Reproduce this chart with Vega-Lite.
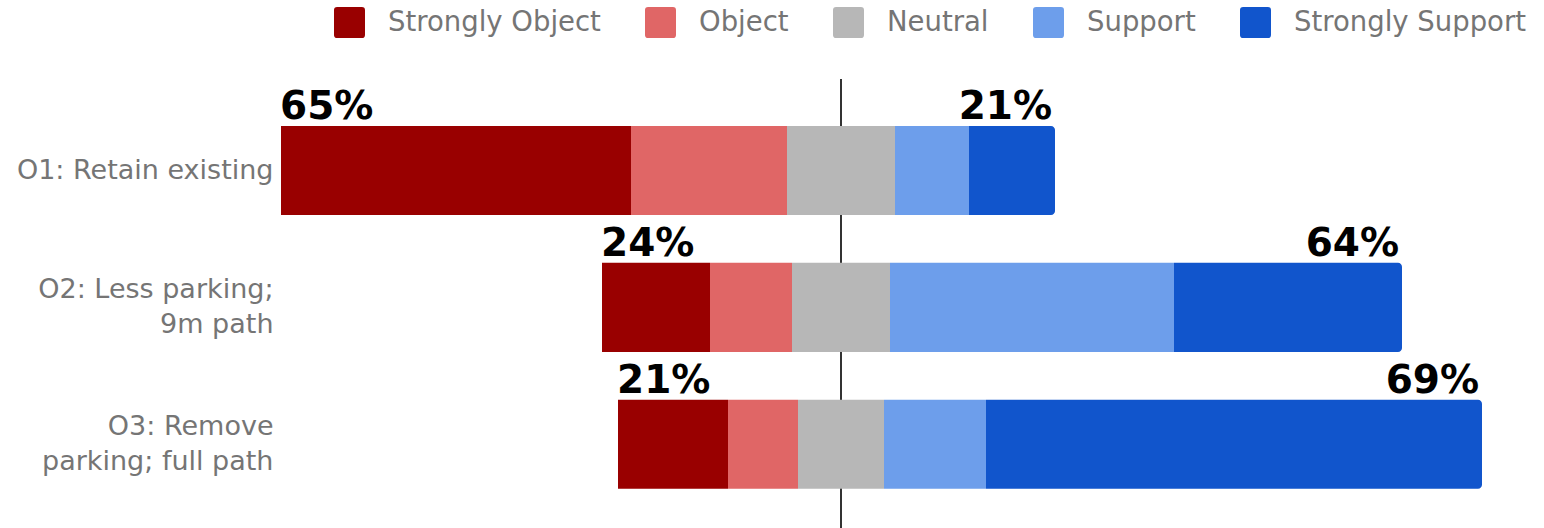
{
  "$schema": "https://vega.github.io/schema/vega-lite/v6.json",
  "width": 1220,
  "height": 449,
  "autosize": {"type": "none"},
  "padding": {"left": 281, "top": 79, "right": 43, "bottom": 0},
  "background": "white",
  "config": {
    "view": {"stroke": null},
    "font": "DejaVu Sans"
  },
  "data": {
    "values": [
      {"question": "O1: Retain existing", "response": "Strongly Object", "count": 175},
      {"question": "O1: Retain existing", "response": "Object", "count": 78},
      {"question": "O1: Retain existing", "response": "Neutral", "count": 54},
      {"question": "O1: Retain existing", "response": "Support", "count": 37},
      {"question": "O1: Retain existing", "response": "Strongly Support", "count": 43},
      {"question": "O2: Less parking;\n9m path", "response": "Strongly Object", "count": 54},
      {"question": "O2: Less parking;\n9m path", "response": "Object", "count": 41},
      {"question": "O2: Less parking;\n9m path", "response": "Neutral", "count": 49},
      {"question": "O2: Less parking;\n9m path", "response": "Support", "count": 142},
      {"question": "O2: Less parking;\n9m path", "response": "Strongly Support", "count": 114},
      {"question": "O3: Remove\nparking; full path", "response": "Strongly Object", "count": 55},
      {"question": "O3: Remove\nparking; full path", "response": "Object", "count": 35},
      {"question": "O3: Remove\nparking; full path", "response": "Neutral", "count": 43},
      {"question": "O3: Remove\nparking; full path", "response": "Support", "count": 51},
      {"question": "O3: Remove\nparking; full path", "response": "Strongly Support", "count": 248}
    ]
  },
  "transform": [
    {"calculate": "indexof(['Strongly Object','Object','Neutral','Support','Strongly Support'], datum.response) + 1", "as": "order"},
    {"window": [{"op": "sum", "field": "count", "as": "cum"}], "groupby": ["question"], "sort": [{"field": "order"}], "frame": [null, 0]},
    {"calculate": "datum.cum - datum.count", "as": "start"},
    {"calculate": "datum.order <= 2 ? datum.count : (datum.order == 3 ? datum.count / 2 : 0)", "as": "negPart"},
    {"calculate": "datum.order <= 2 ? datum.count : 0", "as": "objPart"},
    {"calculate": "datum.order >= 4 ? datum.count : 0", "as": "supPart"},
    {"joinaggregate": [
      {"op": "sum", "field": "negPart", "as": "offset"},
      {"op": "sum", "field": "objPart", "as": "obj"},
      {"op": "sum", "field": "supPart", "as": "sup"},
      {"op": "sum", "field": "count", "as": "total"}
    ], "groupby": ["question"]},
    {"calculate": "datum.start - datum.offset", "as": "x0"},
    {"calculate": "datum.cum - datum.offset", "as": "x1"},
    {"calculate": "format(datum.obj / datum.total, '.0%')", "as": "objLabel"},
    {"calculate": "format(datum.sup / datum.total, '.0%')", "as": "supLabel"}
  ],
  "layer": [
    {
      "transform": [{"aggregate": [{"op": "count", "as": "n"}]}],
      "mark": {"type": "rule", "color": "#333333", "strokeWidth": 2},
      "encoding": {
        "x": {"datum": 0, "type": "quantitative", "scale": {"domain": [-280, 330], "nice": false, "zero": false}, "axis": null}
      }
    },
    {
      "transform": [{"filter": "datum.order < 5"}],
      "mark": {"type": "bar"},
      "encoding": {
        "y": {
          "field": "question",
          "type": "nominal",
          "sort": null,
          "scale": {"paddingInner": 0.349, "paddingOuter": 0.315, "align": 0.545},
          "axis": {
            "title": null,
            "domain": false,
            "ticks": false,
            "grid": false,
            "labelPadding": 8,
            "labelFontSize": 27,
            "labelColor": "#757575",
            "labelFont": "DejaVu Sans",
            "labelLimit": 500,
            "labelLineHeight": 35,
            "labelExpr": "split(datum.label, '\\n')",
            "labelOffset": {"condition": {"test": "indexof(datum.value, '\\n') >= 0", "value": -17.5}, "value": 0}
          }
        },
        "x": {"field": "x0", "type": "quantitative", "scale": {"domain": [-280, 330], "nice": false, "zero": false}, "axis": null},
        "x2": {"field": "x1"},
        "color": {
          "field": "response",
          "type": "nominal",
          "scale": {
            "domain": ["Strongly Object", "Object", "Neutral", "Support", "Strongly Support"],
            "range": ["#990000", "#e06666", "#b7b7b7", "#6d9eeb", "#1155cc"]
          },
          "legend": {
            "title": null,
            "orient": "none",
            "legendX": 53,
            "legendY": -72,
            "direction": "horizontal",
            "padding": 0,
            "symbolType": "M-0.8,-1H0.8Q1,-1 1,-0.8V0.8Q1,1 0.8,1H-0.8Q-1,1 -1,0.8V-0.8Q-1,-1 -0.8,-1Z",
            "symbolSize": 961,
            "symbolStrokeWidth": 0,
            "symbolOpacity": 1,
            "labelFontSize": 27.5,
            "labelFont": "DejaVu Sans",
            "labelColor": "#757575",
            "labelOffset": 23,
            "labelLimit": 500,
            "columnPadding": 44
          }
        }
      }
    },
    {
      "transform": [{"filter": "datum.order == 5"}],
      "mark": {"type": "bar", "cornerRadiusTopRight": 4, "cornerRadiusBottomRight": 4},
      "encoding": {
        "y": {"field": "question", "type": "nominal", "sort": null},
        "x": {"field": "x0", "type": "quantitative"},
        "x2": {"field": "x1"},
        "color": {"field": "response", "type": "nominal"}
      }
    },
    {
      "transform": [{"filter": "datum.order == 1"}],
      "mark": {"type": "text", "align": "left", "baseline": "alphabetic", "dx": -1, "dy": -7, "font": "DejaVu Sans", "fontWeight": "bold", "fontSize": 39, "color": "#000000"},
      "encoding": {
        "y": {"field": "question", "type": "nominal", "sort": null, "bandPosition": 0},
        "x": {"field": "x0", "type": "quantitative"},
        "text": {"field": "objLabel"}
      }
    },
    {
      "transform": [{"filter": "datum.order == 5"}],
      "mark": {"type": "text", "align": "right", "baseline": "alphabetic", "dx": -3, "dy": -7, "font": "DejaVu Sans", "fontWeight": "bold", "fontSize": 39, "color": "#000000"},
      "encoding": {
        "y": {"field": "question", "type": "nominal", "sort": null, "bandPosition": 0},
        "x": {"field": "x1", "type": "quantitative"},
        "text": {"field": "supLabel"}
      }
    }
  ]
}
